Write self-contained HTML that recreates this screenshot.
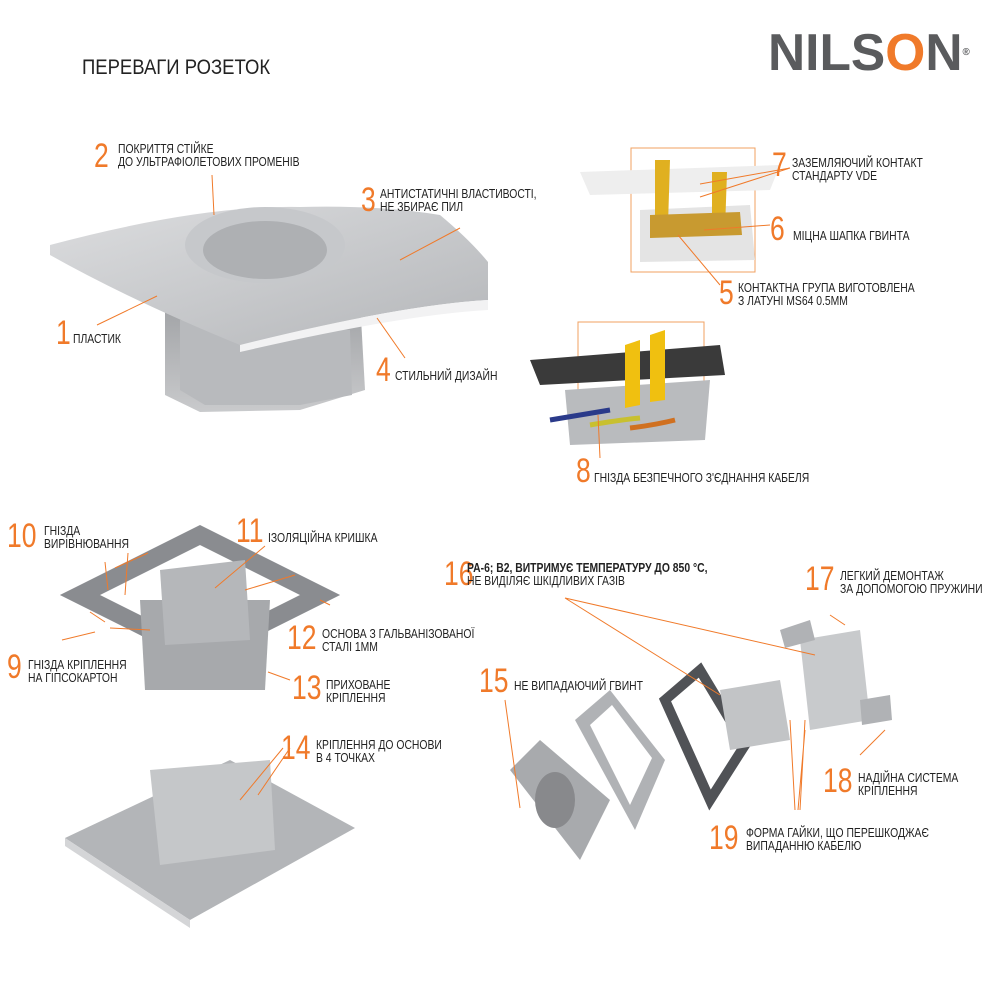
<!DOCTYPE html>
<html><head><meta charset="utf-8"><style>
body{margin:0;width:1000px;height:1000px;background:#fff;position:relative;overflow:hidden;font-family:"Liberation Sans Narrow","Liberation Sans",sans-serif;}
svg{position:absolute;left:0;top:0}
.n{position:absolute;color:#f07a2a;font-size:34px;line-height:34px;font-weight:300;transform:scaleX(.78);transform-origin:0 0}
.t{position:absolute;color:#222;font-size:12.5px;line-height:13px;white-space:nowrap;transform:scaleX(.83);transform-origin:0 0}
</style></head><body>
<svg width="1000" height="1000" viewBox="0 0 1000 1000">
<defs>
<linearGradient id="g1" x1="0" y1="0" x2="1" y2="1"><stop offset="0" stop-color="#dcdddf"/><stop offset="1" stop-color="#b4b6b9"/></linearGradient>
<linearGradient id="g2" x1="0" y1="0" x2="0" y2="1"><stop offset="0" stop-color="#9fa1a4"/><stop offset="1" stop-color="#c9cacc"/></linearGradient>
</defs>
<path d="M165,300 L360,300 L365,390 L300,410 L200,412 L165,395 Z" fill="url(#g2)"/>
<path d="M180,320 L350,330 L352,395 L300,405 L205,405 L180,390Z" fill="#b8babd"/>
<path d="M50,245 Q200,205 300,207 Q380,205 440,215 Q470,240 488,262 L488,300 Q400,305 240,345 Q130,300 50,255 Z" fill="url(#g1)"/>
<path d="M240,345 Q400,305 488,300 L488,310 Q400,315 240,352 Z" fill="#f2f2f3"/>
<ellipse cx="265" cy="245" rx="80" ry="38" fill="#c6c8cb"/>
<ellipse cx="265" cy="250" rx="62" ry="29" fill="#aeb0b3"/>
<rect x="631" y="148" width="124" height="124" fill="none" stroke="#f0a060" stroke-width="1"/>
<path d="M580,172 L780,165 L770,190 L590,195Z" fill="#eeeeee"/>
<path d="M640,210 L750,205 L755,260 L640,262Z" fill="#e4e4e4"/>
<path d="M655,160 L670,160 L668,225 L655,225Z M712,172 L727,172 L725,230 L712,230Z" fill="#e0b020"/>
<path d="M650,215 L740,212 L742,235 L650,238Z" fill="#c89a30"/>
<rect x="578" y="322" width="126" height="110" fill="none" stroke="#f0a060" stroke-width="1"/>
<path d="M530,360 L720,345 L725,375 L540,385Z" fill="#3a3a3a"/>
<path d="M565,390 L710,380 L705,440 L570,445Z" fill="#b9bbbe"/>
<path d="M625,345 L640,340 L640,405 L625,408Z M650,335 L665,330 L665,400 L650,402Z" fill="#f0c010"/>
<path d="M550,420 Q580,415 610,410" stroke="#2a3a8a" stroke-width="5" fill="none"/>
<path d="M590,425 Q620,420 640,418" stroke="#c8c030" stroke-width="5" fill="none"/>
<path d="M630,428 Q655,425 675,420" stroke="#d07020" stroke-width="5" fill="none"/>
<path d="M80,595 L200,535 L320,595 L200,655Z" fill="none" stroke="#8a8c90" stroke-width="18"/>
<path d="M140,600 L270,600 L265,690 L145,690Z" fill="#a7a9ac"/>
<path d="M160,570 L245,560 L250,640 L165,645Z" fill="#b5b7ba"/>
<path d="M65,838 L230,760 L355,828 L190,920Z" fill="#b3b5b8"/>
<path d="M65,838 L190,920 L190,928 L65,846Z" fill="#d4d5d7"/>
<path d="M150,770 L270,760 L275,850 L160,865Z" fill="#c5c7c9"/>
<path d="M510,770 L540,740 L610,800 L580,860Z" fill="#a8aaad"/>
<ellipse cx="555" cy="800" rx="20" ry="28" fill="#88898c"/>
<path d="M575,720 L610,690 L665,760 L635,830Z" fill="#b0b2b5"/>
<path d="M590,725 L612,705 L652,758 L630,805Z" fill="#fff"/>
<path d="M665,700 L700,670 L745,745 L710,800Z" fill="none" stroke="#505256" stroke-width="10"/>
<path d="M720,690 L780,680 L790,740 L730,750Z" fill="#c2c4c6"/>
<path d="M800,640 L860,630 L870,720 L810,730Z" fill="#c8cacc"/>
<path d="M780,630 L810,620 L815,640 L785,648Z M860,700 L890,695 L892,720 L862,725Z" fill="#b0b2b5"/>
<g stroke="#f07a2a" stroke-width="1" fill="none">
<path d="M212,175 L214,215 M460,228 L400,260 M157,296 L97,325 M377,318 L405,358"/>
<path d="M700,184 L790,168 M700,197 L790,168 M704,230 L770,225 M678,235 L720,285 M598,415 L600,458"/>
<path d="M148,553 L115,568 M105,562 L108,590 M128,553 L125,595 M265,546 L215,588 M295,575 L245,590 M320,600 L330,605"/>
<path d="M90,612 L105,622 M110,628 L150,630 M62,640 L95,632 M268,672 L290,680 M283,748 L240,800 M290,748 L258,795"/>
<path d="M565,598 L720,695 M565,598 L815,655 M505,700 L520,808 M830,615 L845,625 M885,730 L860,755"/>
<path d="M805,730 L798,810 M790,720 L795,810 M805,720 L800,810"/>
</g>
</svg>
<div class="t" style="left:82px;top:57px;font-size:21px;line-height:22px;color:#222;transform:scaleX(.88)">ПЕРЕВАГИ РОЗЕТОК</div>
<div style="position:absolute;left:768px;top:27px;font-size:52px;line-height:52px;font-weight:bold;color:#5a5b5d;font-family:'Liberation Sans',sans-serif;transform:scaleX(.99);transform-origin:0 0">NILS<span style="color:#f07a2a">O</span>N<sup style="font-size:10px;vertical-align:top">®</sup></div>

<div class="n" style="left:94px;top:139px">2</div><div class="t" style="left:118px;top:143px">ПОКРИТТЯ СТІЙКЕ<br>ДО УЛЬТРАФІОЛЕТОВИХ ПРОМЕНІВ</div>
<div class="n" style="left:361px;top:183px">3</div><div class="t" style="left:380px;top:188px">АНТИСТАТИЧНІ ВЛАСТИВОСТІ,<br>НЕ ЗБИРАЄ ПИЛ</div>
<div class="n" style="left:56px;top:316px">1</div><div class="t" style="left:73px;top:333px">ПЛАСТИК</div>
<div class="n" style="left:376px;top:353px">4</div><div class="t" style="left:395px;top:370px">СТИЛЬНИЙ ДИЗАЙН</div>
<div class="n" style="left:772px;top:148px">7</div><div class="t" style="left:792px;top:157px">ЗАЗЕМЛЯЮЧИЙ КОНТАКТ<br>СТАНДАРТУ VDE</div>
<div class="n" style="left:770px;top:212px">6</div><div class="t" style="left:793px;top:230px">МІЦНА ШАПКА ГВИНТА</div>
<div class="n" style="left:719px;top:276px">5</div><div class="t" style="left:738px;top:282px">КОНТАКТНА ГРУПА ВИГОТОВЛЕНА<br>З ЛАТУНІ MS64 0.5MM</div>
<div class="n" style="left:576px;top:454px">8</div><div class="t" style="left:594px;top:472px">ГНІЗДА БЕЗПЕЧНОГО З'ЄДНАННЯ КАБЕЛЯ</div>
<div class="n" style="left:7px;top:519px">10</div><div class="t" style="left:44px;top:525px">ГНІЗДА<br>ВИРІВНЮВАННЯ</div>
<div class="n" style="left:236px;top:514px">11</div><div class="t" style="left:268px;top:532px">ІЗОЛЯЦІЙНА КРИШКА</div>
<div class="n" style="left:287px;top:621px">12</div><div class="t" style="left:322px;top:628px">ОСНОВА З ГАЛЬВАНІЗОВАНОЇ<br>СТАЛІ 1ММ</div>
<div class="n" style="left:7px;top:650px">9</div><div class="t" style="left:28px;top:659px">ГНІЗДА КРІПЛЕННЯ<br>НА ГІПСОКАРТОН</div>
<div class="n" style="left:292px;top:671px">13</div><div class="t" style="left:326px;top:679px">ПРИХОВАНЕ<br>КРІПЛЕННЯ</div>
<div class="n" style="left:281px;top:731px">14</div><div class="t" style="left:316px;top:739px">КРІПЛЕННЯ ДО ОСНОВИ<br>В 4 ТОЧКАХ</div>
<div class="n" style="left:444px;top:557px">16</div><div class="t" style="left:467px;top:562px"><b>PA-6;  B2, ВИТРИМУЄ ТЕМПЕРАТУРУ ДО 850 °C,</b><br>НЕ ВИДІЛЯЄ ШКІДЛИВИХ ГАЗІВ</div>
<div class="n" style="left:805px;top:562px">17</div><div class="t" style="left:840px;top:570px">ЛЕГКИЙ ДЕМОНТАЖ<br>ЗА ДОПОМОГОЮ ПРУЖИНИ</div>
<div class="n" style="left:479px;top:664px">15</div><div class="t" style="left:514px;top:680px">НЕ ВИПАДАЮЧИЙ ГВИНТ</div>
<div class="n" style="left:823px;top:764px">18</div><div class="t" style="left:858px;top:772px">НАДІЙНА СИСТЕМА<br>КРІПЛЕННЯ</div>
<div class="n" style="left:709px;top:821px">19</div><div class="t" style="left:746px;top:827px">ФОРМА ГАЙКИ, ЩО ПЕРЕШКОДЖАЄ<br>ВИПАДАННЮ КАБЕЛЮ</div>
</body></html>
